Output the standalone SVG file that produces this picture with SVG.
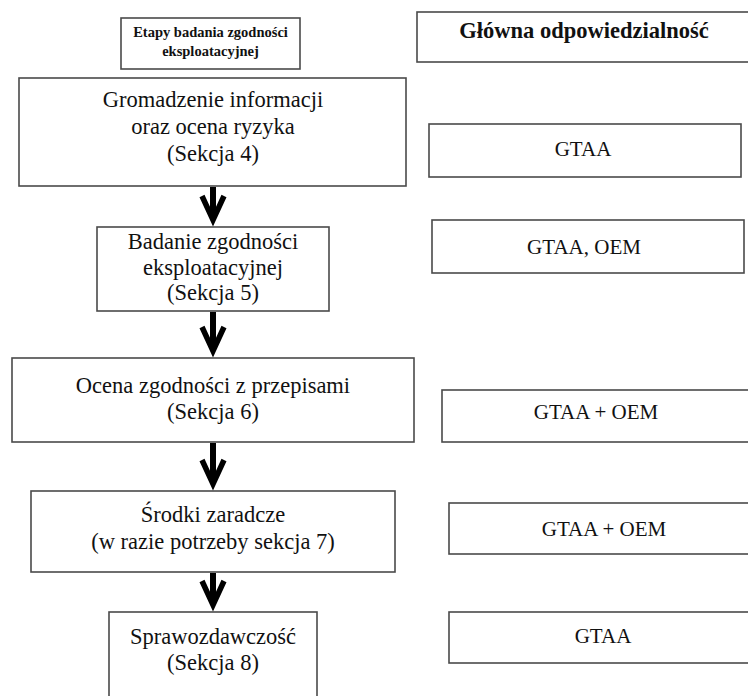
<svg xmlns="http://www.w3.org/2000/svg" width="748" height="696" viewBox="0 0 748 696">
<style>
.box{fill:#fff;stroke:#4a4a4a;stroke-width:1.6}
.t{font-family:"Liberation Serif","Times New Roman",serif;font-size:22.5px;fill:#111;text-anchor:middle}
.r{font-family:"Liberation Serif","Times New Roman",serif;font-size:21px;fill:#111;text-anchor:middle}
.hb{font-family:"Liberation Serif","Times New Roman",serif;font-weight:bold;fill:#111;text-anchor:middle}
.arr{fill:none;stroke:#000;stroke-width:6}
</style>
<defs>
<marker id="chev" markerUnits="userSpaceOnUse" viewBox="-32 -16 40 32" refX="0" refY="0" markerWidth="40" markerHeight="32" orient="auto">
<path d="M-24,-11 L0,0 L-24,11" fill="none" stroke="#000" stroke-width="5.5" stroke-linejoin="miter"/>
</marker>
</defs>
<rect width="748" height="696" fill="#fff"/>
<g id="header-stages">
<rect class="box" x="121" y="18" width="179" height="51"/>
<text class="hb" font-size="14.5" x="210.5" y="37">Etapy badania zgodności</text>
<text class="hb" font-size="14.5" x="210.5" y="56">eksploatacyjnej</text>
</g>
<g id="header-responsibility">
<rect class="box" x="417" y="12" width="345" height="50"/>
<text class="hb" font-size="22.5" x="584" y="38">Główna odpowiedzialność</text>
</g>
<g id="step1">
<rect class="box" x="19" y="78" width="387" height="108"/>
<text class="t" x="213" y="107">Gromadzenie informacji</text>
<text class="t" x="213" y="134">oraz ocena ryzyka</text>
<text class="t" x="213" y="161">(Sekcja 4)</text>
</g>
<g id="step2">
<rect class="box" x="97" y="227" width="232" height="84"/>
<text class="t" x="213" y="249">Badanie zgodności</text>
<text class="t" x="213" y="275">eksploatacyjnej</text>
<text class="t" x="213" y="300">(Sekcja 5)</text>
</g>
<g id="step3">
<rect class="box" x="12" y="358" width="402" height="84"/>
<text class="t" x="213" y="393">Ocena zgodności z przepisami</text>
<text class="t" x="213" y="419">(Sekcja 6)</text>
</g>
<g id="step4">
<rect class="box" x="31" y="491" width="364" height="81"/>
<text class="t" x="213" y="522">Środki zaradcze</text>
<text class="t" x="213" y="549">(w razie potrzeby sekcja 7)</text>
</g>
<g id="step5">
<rect class="box" x="109" y="612" width="208" height="95"/>
<text class="t" x="213" y="644">Sprawozdawczość</text>
<text class="t" x="213" y="670">(Sekcja 8)</text>
</g>
<g id="resp1">
<rect class="box" x="429" y="124" width="312" height="53"/>
<text class="r" x="583" y="156">GTAA</text>
</g>
<g id="resp2">
<rect class="box" x="432" y="220" width="312" height="53"/>
<text class="r" x="584" y="254">GTAA, OEM</text>
</g>
<g id="resp3">
<rect class="box" x="442" y="390" width="320" height="52"/>
<text class="r" x="596" y="419">GTAA + OEM</text>
</g>
<g id="resp4">
<rect class="box" x="449" y="503" width="320" height="51"/>
<text class="r" x="604" y="536">GTAA + OEM</text>
</g>
<g id="resp5">
<rect class="box" x="449" y="612" width="320" height="51"/>
<text class="r" x="603" y="643">GTAA</text>
</g>
<g id="connectors">
<path class="arr" d="M213,187 L213,220" marker-end="url(#chev)"/>
<path class="arr" d="M213,312 L213,351" marker-end="url(#chev)"/>
<path class="arr" d="M213,443 L213,484" marker-end="url(#chev)"/>
<path class="arr" d="M213,573 L213,605" marker-end="url(#chev)"/>
</g>
</svg>
